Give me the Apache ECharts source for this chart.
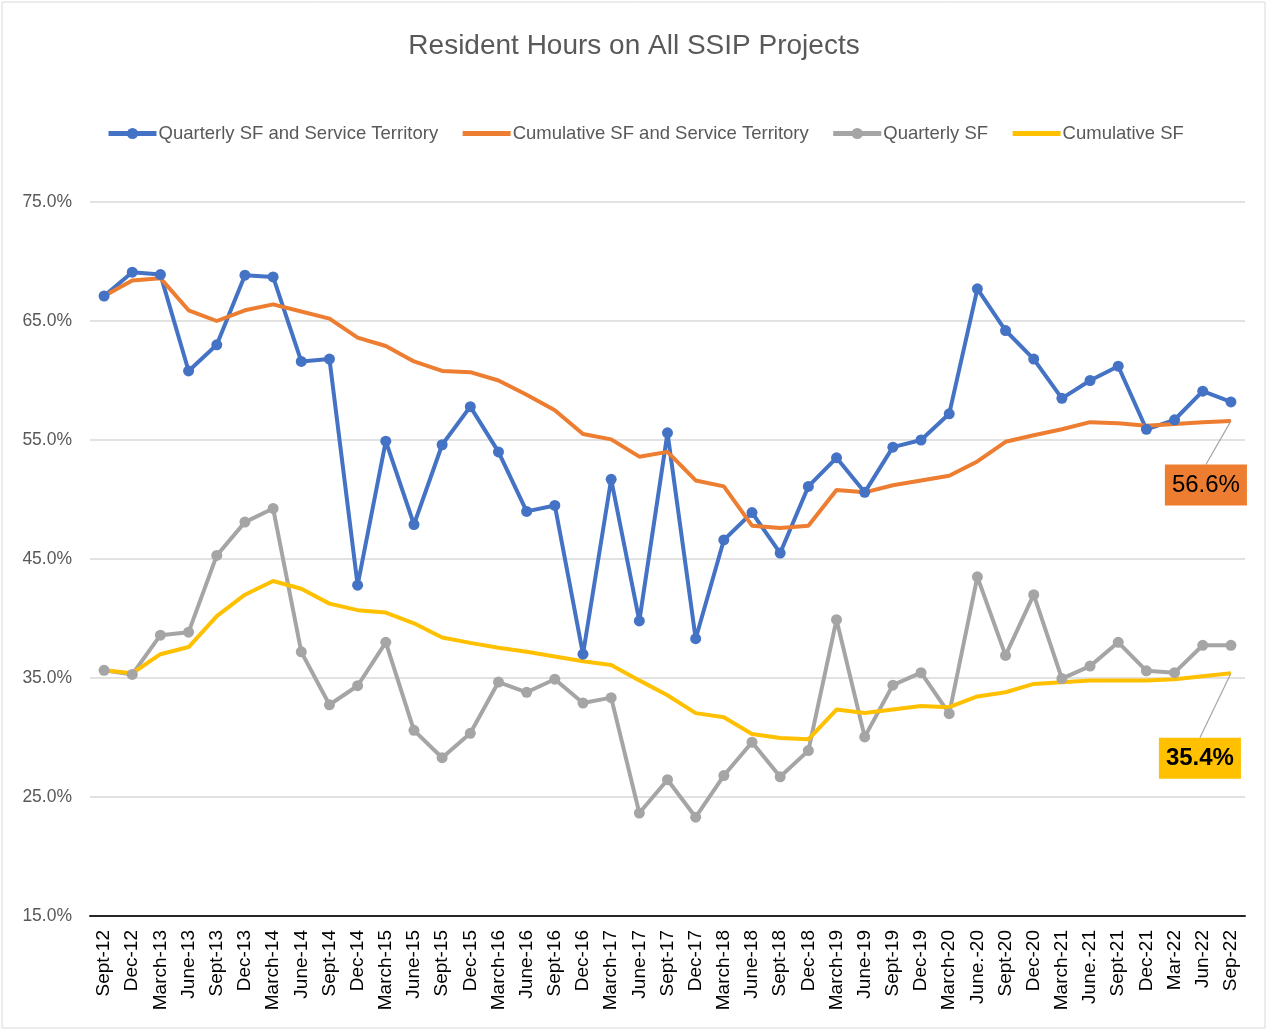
<!DOCTYPE html>
<html>
<head>
<meta charset="utf-8">
<script src="https://cdn.jsdelivr.net/npm/echarts@6/dist/echarts.min.js"></script>
<style>
html,body{margin:0;padding:0;background:#fff;}
#chart{width:1268px;height:1031px;}
</style>
</head>
<body>
<div id="chart"></div>
<script>
var categories = ['Sept-12','Dec-12','March-13','June-13','Sept-13','Dec-13','March-14','June-14','Sept-14','Dec-14','March-15','June-15','Sept-15','Dec-15','March-16','June-16','Sept-16','Dec-16','March-17','June-17','Sept-17','Dec-17','March-18','June-18','Sept-18','Dec-18','March-19','June-19','Sept-19','Dec-19','March-20','June.-20','Sept-20','Dec-20','March-21','June.-21','Sept-21','Dec-21','Mar-22','Jun-22','Sep-22'];

var quarterlySFST = [67.1,69.1,68.9,60.8,63.0,68.85,68.7,61.6,61.8,42.8,54.9,47.9,54.6,57.8,54.0,49.0,49.5,37.0,51.7,39.8,55.6,38.3,46.6,48.9,45.5,51.1,53.5,50.6,54.4,55.0,57.2,67.7,64.2,61.8,58.5,60.0,61.2,55.9,56.7,59.1,58.2];

var cumulativeSFST = [67.1,68.4,68.6,65.9,65.0,65.9,66.4,65.8,65.2,63.6,62.9,61.6,60.8,60.7,60.0,58.8,57.5,55.5,55.05,53.6,54.0,51.6,51.1,47.8,47.6,47.8,50.8,50.6,51.2,51.6,52.0,53.2,54.85,55.4,55.9,56.5,56.4,56.2,56.35,56.5,56.6];

var quarterlySF = [35.65,35.3,38.6,38.85,45.3,48.1,49.25,37.2,32.75,34.35,38.0,30.6,28.3,30.35,34.66,33.8,34.9,32.9,33.35,23.65,26.45,23.3,26.8,29.6,26.7,28.9,39.9,30.05,34.4,35.45,32.0,43.5,36.9,42.0,34.95,36.0,38.0,35.6,35.45,37.75,37.75];

var cumulativeSF = [35.65,35.4,37.0,37.6,40.2,42.0,43.15,42.5,41.25,40.7,40.5,39.6,38.4,37.95,37.55,37.2,36.8,36.4,36.1,34.8,33.55,32.05,31.7,30.3,29.95,29.85,32.35,32.05,32.35,32.65,32.55,33.45,33.8,34.5,34.65,34.8,34.8,34.8,34.9,35.15,35.4];

var yTicks = {min: 15, max: 75, interval: 10};

var FONT = '"Liberation Sans", Arial, sans-serif';

function withLastLabel(arr, bg, bold) {
  return arr.map(function (v, i) {
    if (i !== arr.length - 1) return v;
    return {
      value: v,
      symbol: 'circle',
      symbolSize: 1,
      label: {
        show: true,
        position: 'inside',
        formatter: function (p) { return p.value.toFixed(1) + '%'; },
        backgroundColor: bg,
        color: '#000',
        fontFamily: FONT,
        fontSize: 24,
        fontWeight: bold ? 'bold' : 'normal',
        lineHeight: 25,
        padding: [8, 7, 8, 7]
      }
    };
  });
}

var hiddenMarker = {color: 'rgba(0,0,0,0)', borderWidth: 0, opacity: 0};

var chart = echarts.init(document.getElementById('chart'));
chart.setOption({
  animation: false,
  backgroundColor: '#fff',
  graphic: [{
    type: 'rect',
    shape: {x: 2, y: 2, width: 1263, height: 1026},
    style: {fill: 'none', stroke: '#d9d9d9', lineWidth: 1},
    silent: true
  }],
  title: {
    text: 'Resident Hours on All SSIP Projects',
    left: 'center',
    top: 27,
    textStyle: {color: '#595959', fontSize: 28, fontWeight: 'normal', fontFamily: FONT}
  },
  legend: {
    left: 101,
    top: 119,
    itemWidth: 48,
    itemHeight: 14,
    itemGap: 22,
    lineStyle: {width: 5},
    textStyle: {color: '#595959', fontSize: 18.5, fontFamily: FONT, padding: [0, 0, 0, -3]},
    data: [
      {name: 'Quarterly SF and Service Territory'},
      {name: 'Cumulative SF and Service Territory', itemStyle: hiddenMarker},
      {name: 'Quarterly SF'},
      {name: 'Cumulative SF', itemStyle: hiddenMarker}
    ]
  },
  grid: {left: 90, right: 23, top: 202, bottom: 115},
  xAxis: {
    type: 'category',
    data: categories,
    boundaryGap: true,
    axisLine: {lineStyle: {color: '#262626', width: 2}},
    axisTick: {show: false},
    axisLabel: {rotate: 90, interval: 0, color: '#000', fontSize: 19, fontFamily: FONT, margin: 14}
  },
  yAxis: {
    type: 'value',
    min: yTicks.min,
    max: yTicks.max,
    interval: yTicks.interval,
    axisLine: {show: false},
    axisTick: {show: false},
    splitLine: {lineStyle: {color: '#d9d9d9', width: 1.5}},
    axisLabel: {
      color: '#595959', fontSize: 17.5, fontFamily: FONT, margin: 18,
      formatter: function (v) { return v.toFixed(1) + '%'; }
    }
  },
  series: [
    {
      name: 'Quarterly SF and Service Territory',
      type: 'line',
      data: quarterlySFST,
      color: '#4472C4',
      symbol: 'circle',
      symbolSize: 11,
      lineStyle: {width: 4, color: '#4472C4'},
      itemStyle: {color: '#4472C4'}
    },
    {
      name: 'Cumulative SF and Service Territory',
      type: 'line',
      data: withLastLabel(cumulativeSFST, '#ED7D31', false),
      color: '#ED7D31',
      symbol: 'none',
      showSymbol: true,
      lineStyle: {width: 4, color: '#ED7D31'},
      itemStyle: {color: '#ED7D31'},
      labelLayout: {dx: -25, dy: 64},
      labelLine: {show: true, lineStyle: {color: '#a5a5a5', width: 1.2}}
    },
    {
      name: 'Quarterly SF',
      type: 'line',
      data: quarterlySF,
      color: '#A5A5A5',
      symbol: 'circle',
      symbolSize: 11,
      lineStyle: {width: 4, color: '#A5A5A5'},
      itemStyle: {color: '#A5A5A5'}
    },
    {
      name: 'Cumulative SF',
      type: 'line',
      data: withLastLabel(cumulativeSF, '#FFC000', true),
      color: '#FFC000',
      symbol: 'none',
      showSymbol: true,
      lineStyle: {width: 4, color: '#FFC000'},
      itemStyle: {color: '#FFC000'},
      labelLayout: {dx: -31, dy: 85},
      labelLine: {show: true, lineStyle: {color: '#a5a5a5', width: 1.2}}
    }
  ]
});
</script>
</body>
</html>
